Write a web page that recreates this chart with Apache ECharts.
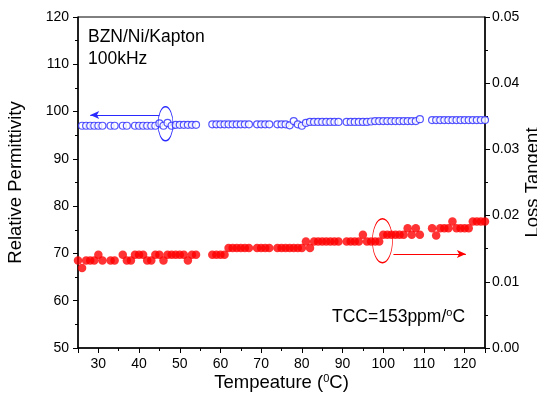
<!DOCTYPE html>
<html>
<head>
<meta charset="utf-8">
<script src="https://cdn.jsdelivr.net/npm/echarts@6/dist/echarts.min.js"></script>
<style>
  html, body { margin: 0; padding: 0; background: #fff; }
  #chart { width: 537px; height: 404px; }
</style>
</head>
<body>
<div id="chart"></div>
<script>
// 温度 (°C)
var temps = [25, 26, 27, 28, 29, 30, 31, 32, 33, 34, 35, 36, 37, 38, 39, 40, 41, 42, 43, 44,
  45, 46, 47, 48, 49, 50, 51, 52, 53, 54, 55, 56, 57, 58, 59, 60, 61, 62, 63, 64,
  65, 66, 67, 68, 69, 70, 71, 72, 73, 74, 75, 76, 77, 78, 79, 80, 81, 82, 83, 84,
  85, 86, 87, 88, 89, 90, 91, 92, 93, 94, 95, 96, 97, 98, 99, 100, 101, 102, 103, 104,
  105, 106, 107, 108, 109, 110, 111, 112, 113, 114, 115, 116, 117, 118, 119, 120, 121, 122, 123, 124, 125];

// 介电常数 (左轴)
var permittivity = [null, 97.0, 97.0, 97.0, 97.0, 97.0, 97.0, null, 97.0, 97.0, null, 97.0, 97.0, null, 97.0, 97.0, 97.0, 97.0, 97.0, 97.0,
  97.5, 97.0, 97.6, 97.0, 97.2, 97.2, 97.2, 97.2, 97.2, 97.2, null, null, null, 97.3, 97.3, 97.3, 97.3, 97.3, 97.3, 97.3,
  97.3, 97.3, 97.3, null, 97.3, 97.3, 97.3, 97.3, null, 97.3, 97.3, 97.3, 97.1, 98.0, 97.3, 97.0, 97.6, 97.8, 97.8, 97.8,
  97.8, 97.8, 97.8, 97.8, 97.8, null, 97.8, 97.8, 97.8, 97.8, 97.8, 97.8, 97.9, 98.0, 98.0, 98.0, 98.0, 98.0, 98.0, 98.0,
  98.0, 98.0, 98.0, 98.0, 98.4, null, null, 98.2, 98.2, 98.2, 98.2, 98.2, 98.2, 98.2, 98.2, 98.2, 98.2, 98.2, 98.2, 98.2, 98.2];

// 损耗角正切 (右轴)
var lossTangent = [0.0132, 0.0121, 0.0132, 0.0132, 0.0132, 0.0141, 0.0132, null, 0.0132, 0.0132, null, 0.0141, 0.0132, 0.0132, 0.0141, 0.0141, 0.0141, 0.0132, 0.0132, 0.0141,
  0.0141, 0.0132, 0.0141, 0.0141, 0.0141, 0.0141, 0.0141, 0.0132, 0.0141, 0.0141, null, null, null, 0.0141, 0.0141, 0.0141, 0.0141, 0.0151, 0.0151, 0.0151,
  0.0151, 0.0151, 0.0151, null, 0.0151, 0.0151, 0.0151, 0.0151, null, 0.0151, 0.0151, 0.0151, 0.0151, 0.0151, 0.0151, 0.0151, 0.0161, 0.0151, 0.0161, 0.0161,
  0.0161, 0.0161, 0.0161, 0.0161, 0.0161, null, 0.0161, 0.0161, 0.0161, 0.0161, 0.0171, 0.0161, 0.0161, 0.0161, 0.0161, 0.0171, 0.0171, 0.0171, 0.0171, 0.0171,
  0.0171, 0.0181, 0.0171, 0.0181, 0.0171, null, null, 0.0181, 0.0170, 0.0181, 0.0181, 0.0181, 0.0191, 0.0181, 0.0181, 0.0181, 0.0181, 0.0191, 0.0191, 0.0191, 0.0191];

// 刻度
var leftTicks = [50, 120, 10];
var rightTicks = [0, 0.05, 0.01];

function pairs(xs, ys) {
  var out = [];
  for (var i = 0; i < xs.length; i++) {
    if (ys[i] !== null) out.push([xs[i], ys[i]]);
  }
  return out;
}

var FONT = 'Liberation Sans, Arial, sans-serif';
var BLUE = '#2a2aff';
var RED = '#ff0000';

var myChart = echarts.init(document.getElementById('chart'), null, { renderer: 'canvas' });

var option = {
  backgroundColor: '#fff',
  animation: false,
  textStyle: { fontFamily: FONT },
  grid: {
    left: 78, right: 52, top: 17, bottom: 56,
    outerBoundsMode: 'none',
    containLabel: false,
    show: true, borderColor: '#000', borderWidth: 1
  },
  xAxis: {
    type: 'value',
    min: 25, max: 125, splitNumber: 10,
    name: 'Tempeature ({sup|0}C)',
    nameLocation: 'middle',
    nameGap: 25,
    nameMoveOverlap: false,
    nameTextStyle: {
      fontSize: 18.5, color: '#000', fontFamily: FONT,
      rich: { sup: { fontSize: 11, verticalAlign: 'top', padding: [0, 0, 9, 0], color: '#000', fontFamily: FONT } }
    },
    axisLine: { lineStyle: { color: '#000', width: 1.5 } },
    axisTick: { length: 5, lineStyle: { color: '#000' } },
    minorTick: { show: true, splitNumber: 2, length: 3, lineStyle: { color: '#000' } },
    axisLabel: {
      fontSize: 14, color: '#000', fontFamily: FONT, margin: 9,
      formatter: function (v) { return v % 10 === 0 ? String(v) : ''; }
    },
    splitLine: { show: false }
  },
  yAxis: [{
    type: 'value',
    min: leftTicks[0], max: leftTicks[1], interval: leftTicks[2],
    name: 'Relative Permittivity',
    nameLocation: 'middle', nameRotate: 90, nameGap: 53,
    nameMoveOverlap: false,
    nameTextStyle: { fontSize: 18.5, color: '#000', fontFamily: FONT },
    axisLine: { show: true, lineStyle: { color: '#000', width: 1.5 } },
    axisTick: { show: true, length: 5, lineStyle: { color: '#000' } },
    minorTick: { show: true, splitNumber: 2, length: 3, lineStyle: { color: '#000' } },
    axisLabel: { fontSize: 14, color: '#000', fontFamily: FONT, margin: 9 },
    splitLine: { show: false }
  }, {
    type: 'value',
    position: 'right',
    min: rightTicks[0], max: rightTicks[1], interval: rightTicks[2],
    name: 'Loss Tangent',
    nameLocation: 'middle', nameRotate: 90, nameGap: 38,
    nameMoveOverlap: false,
    nameTextStyle: { fontSize: 18.5, color: '#000', fontFamily: FONT },
    axisLine: { show: true, lineStyle: { color: '#000', width: 1.5 } },
    axisTick: { show: true, length: 5, lineStyle: { color: '#000' } },
    minorTick: { show: true, splitNumber: 2, length: 3, lineStyle: { color: '#000' } },
    axisLabel: {
      fontSize: 14, color: '#000', fontFamily: FONT, margin: 7,
      formatter: function (v) { return v.toFixed(2); }
    },
    splitLine: { show: false }
  }],
  graphic: [
    { type: 'text', left: 88, top: 28, style: { text: 'BZN/Ni/Kapton', fontSize: 17.5, fill: '#000', fontFamily: FONT } },
    { type: 'text', left: 88, top: 50, style: { text: '100kHz', fontSize: 17.5, fill: '#000', fontFamily: FONT } },
    {
      type: 'text', left: 332, top: 307,
      style: {
        text: 'TCC=153ppm/{sup|o}C', fontSize: 17.5, fill: '#000', fontFamily: FONT,
        rich: { sup: { fontSize: 11, verticalAlign: 'top', padding: [0, 0, 9, 0], fill: '#000', fontFamily: FONT } }
      }
    }
  ],
  series: [{
    name: 'Relative Permittivity',
    type: 'scatter',
    yAxisIndex: 0,
    symbol: 'circle',
    symbolSize: 7,
    itemStyle: { color: '#fff', borderColor: BLUE, borderWidth: 1.2 },
    data: pairs(temps, permittivity),
    markLine: {
      silent: true,
      symbol: ['none', 'arrow'],
      symbolSize: [6, 9],
      label: { show: false },
      lineStyle: { color: BLUE, width: 1, type: 'solid' },
      data: [[{ coord: [45, 99.3] }, { coord: [28, 99.3] }]]
    },
    markPoint: {
      silent: true,
      symbol: 'circle',
      symbolSize: [15, 34],
      label: { show: false },
      itemStyle: { color: 'transparent', borderColor: BLUE, borderWidth: 1 },
      data: [{ coord: [46.5, 97.4] }]
    }
  }, {
    name: 'Loss Tangent',
    type: 'scatter',
    yAxisIndex: 1,
    symbol: 'circle',
    symbolSize: 8.5,
    itemStyle: { color: RED },
    data: pairs(temps, lossTangent),
    markLine: {
      silent: true,
      symbol: ['none', 'arrow'],
      symbolSize: [6, 9],
      label: { show: false },
      lineStyle: { color: RED, width: 1, type: 'solid' },
      data: [[{ coord: [102.5, 0.0142] }, { coord: [120.3, 0.0142] }]]
    },
    markPoint: {
      silent: true,
      symbol: 'circle',
      symbolSize: [20, 44],
      label: { show: false },
      itemStyle: { color: 'transparent', borderColor: RED, borderWidth: 1 },
      data: [{ coord: [99.8, 0.0162] }]
    }
  }]
};

myChart.setOption(option);
</script>
</body>
</html>
